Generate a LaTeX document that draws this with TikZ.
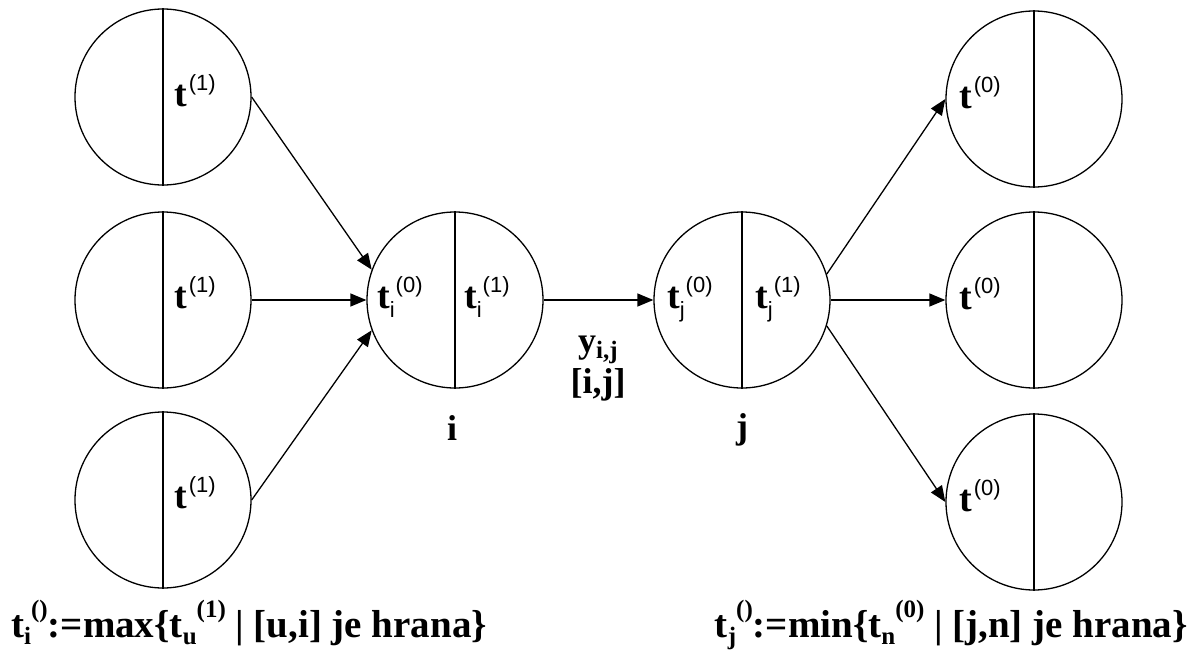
\documentclass[tikz,border=0pt]{standalone}
\usepackage{fontspec}
\setmainfont{Liberation Serif}
\newfontfamily\supfont{Liberation Sans}
\usetikzlibrary{arrows.meta}
\newcommand\tbig{\fontsize{38}{38}\selectfont\bfseries t}
\newcommand\tsup[1]{\raisebox{0.4em}{\supfont\fontsize{22}{22}\selectfont\mdseries(#1)}}
\newcommand\tsub[1]{\raisebox{-0.25em}{\supfont\fontsize{22}{22}\selectfont\mdseries #1}}
\newcommand\fsup[1]{\raisebox{0.5em}{\fontsize{25}{25}\selectfont #1}}
\newcommand\fsub[1]{\raisebox{-0.18em}{\fontsize{25}{25}\selectfont #1}}
\begin{document}
\begin{tikzpicture}[x=1pt,y=-1pt,
  vtx/.style={circle,draw,line width=1.3pt,minimum size=176pt,inner sep=0pt},
  arr/.style={-{Triangle[length=16pt,width=13pt]},line width=1.3pt},
  clab/.style={inner sep=0pt,anchor=base west},
  txt/.style={font=\fontsize{36}{38}\selectfont\bfseries,inner sep=0pt},
  ftxt/.style={font=\fontsize{39}{40}\selectfont\bfseries,inner sep=0pt}]
\useasboundingbox (0,0) rectangle (1197,653);
\fill[white] (0,0) rectangle (1197,653);
% left column
\node[vtx] (l1) at (163,97) {};
\node[vtx] (l2) at (163,300) {};
\node[vtx] (l3) at (163,500) {};
% middle
\node[vtx] (i) at (455,300) {};
\node[vtx] (j) at (742,300) {};
% right column
\node[vtx] (r1) at (1034,99) {};
\node[vtx] (r2) at (1034,300) {};
\node[vtx] (r3) at (1034,502) {};
\foreach \n in {l1,l2,l3,i,j,r1,r2,r3}
  \draw[line width=1.3pt] (\n.north) -- (\n.south);
% labels in circles
\node[clab] (tl1) at (174,106) {\tbig\kern2pt\tsup{1}};
\node[clab] (tl2) at (174,308) {\tbig\kern2pt\tsup{1}};
\node[clab] (tl3) at (174,508) {\tbig\kern2pt\tsup{1}};
\node[clab] (ti0) at (377,308) {\tbig\tsub{i}\kern1pt\tsup{0}};
\node[clab] (ti1) at (464,308) {\tbig\tsub{i}\kern1pt\tsup{1}};
\node[clab] (tj0) at (667,308) {\tbig\tsub{j}\kern1pt\tsup{0}};
\node[clab] (tj1) at (755,308) {\tbig\tsub{j}\kern1pt\tsup{1}};
\node[clab] (tr1) at (959,108) {\tbig\kern2pt\tsup{0}};
\node[clab] (tr2) at (959,309) {\tbig\kern2pt\tsup{0}};
\node[clab] (tr3) at (959,511) {\tbig\kern2pt\tsup{0}};
% arrows
\draw[arr] (l1.east) -- (i.160);
\draw[arr] (l2.east) -- (i.west);
\draw[arr] (l3.east) -- (i.200);
\draw[arr] (i.east) -- (j.west);
\draw[arr] (j.17) -- (r1.west);
\draw[arr] (j.east) -- (r2.west);
\draw[arr] (j.-17) -- (r3.west);
% edge labels
\node[txt] (yij) at (598,350) {y\fsub{i,j}};
\node[txt] (eij) at (598,385) {[i,j]};
\node[txt] (li) at (452,428) {i};
\node[txt] (lj) at (742,430) {j};
% formulas
\node[ftxt,anchor=base west] (fl) at (11,637) {t\fsub{i}\fsup{()}:=max\{t\fsub{u}\fsup{(1)} | [u,i] je hrana\}};
\node[ftxt,anchor=base east] (fr) at (1188,637) {t\fsub{j}\fsup{()}:=min\{t\fsub{n}\fsup{(0)} | [j,n] je hrana\}};
\end{tikzpicture}
\end{document}
